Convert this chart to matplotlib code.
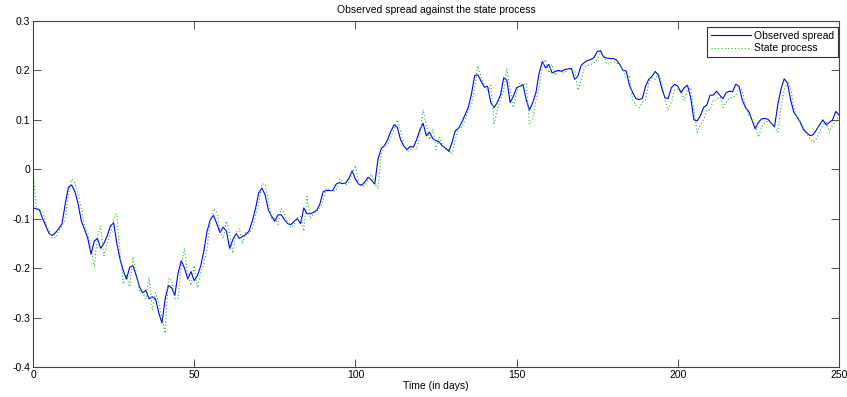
import numpy as np
import matplotlib
matplotlib.use("Agg")
import matplotlib.pyplot as plt

plt.rcParams['font.family'] = ['Liberation Sans', 'DejaVu Sans']

# daily values, day 0 .. 250
observed = [
    -0.078, -0.080, -0.082, -0.100, -0.115, -0.130, -0.134, -0.128, -0.120, -0.110,
    -0.070, -0.036, -0.032, -0.045, -0.070, -0.105, -0.122, -0.140, -0.172, -0.145,
    -0.140, -0.160, -0.150, -0.135, -0.115, -0.108, -0.150, -0.182, -0.205, -0.222,
    -0.198, -0.195, -0.215, -0.237, -0.250, -0.245, -0.262, -0.258, -0.262, -0.290,
    -0.311, -0.262, -0.235, -0.240, -0.255, -0.210, -0.185, -0.200, -0.222, -0.207,
    -0.225, -0.215, -0.196, -0.165, -0.125, -0.102, -0.093, -0.110, -0.128, -0.117,
    -0.125, -0.160, -0.142, -0.130, -0.140, -0.136, -0.132, -0.125, -0.105, -0.080,
    -0.048, -0.038, -0.052, -0.082, -0.095, -0.105, -0.092, -0.092, -0.102, -0.110,
    -0.112, -0.105, -0.100, -0.110, -0.078, -0.090, -0.090, -0.087, -0.083, -0.070,
    -0.045, -0.043, -0.043, -0.043, -0.030, -0.027, -0.029, -0.028, -0.018, -0.003,
    -0.020, -0.030, -0.032, -0.025, -0.016, -0.022, -0.030, 0.020, 0.042, 0.048,
    0.060, 0.077, 0.090, 0.085, 0.060, 0.047, 0.040, 0.046, 0.045, 0.060,
    0.080, 0.093, 0.068, 0.075, 0.062, 0.058, 0.055, 0.047, 0.043, 0.036,
    0.055, 0.078, 0.083, 0.095, 0.110, 0.125, 0.152, 0.190, 0.191, 0.178,
    0.166, 0.168, 0.135, 0.125, 0.135, 0.150, 0.185, 0.180, 0.135, 0.148,
    0.165, 0.168, 0.171, 0.140, 0.120, 0.135, 0.155, 0.195, 0.218, 0.205,
    0.212, 0.195, 0.198, 0.200, 0.198, 0.202, 0.203, 0.204, 0.182, 0.188,
    0.210, 0.216, 0.220, 0.222, 0.226, 0.238, 0.240, 0.227, 0.225, 0.224,
    0.224, 0.221, 0.212, 0.200, 0.199, 0.170, 0.155, 0.143, 0.141, 0.143,
    0.168, 0.182, 0.188, 0.198, 0.190, 0.165, 0.145, 0.143, 0.165, 0.172,
    0.168, 0.155, 0.165, 0.170, 0.145, 0.100, 0.098, 0.108, 0.125, 0.130,
    0.150, 0.150, 0.158, 0.150, 0.143, 0.155, 0.158, 0.157, 0.172, 0.168,
    0.140, 0.125, 0.117, 0.100, 0.082, 0.095, 0.102, 0.103, 0.101, 0.093,
    0.086, 0.130, 0.162, 0.183, 0.175, 0.140, 0.115, 0.106, 0.095, 0.080,
    0.074, 0.068, 0.070, 0.080, 0.090, 0.100, 0.090, 0.095, 0.100, 0.117,
    0.110,
]

state = [
    0.000, -0.078, -0.082, -0.085, -0.110, -0.125, -0.140, -0.138, -0.125, -0.115,
    -0.100, -0.050, -0.020, -0.028, -0.050, -0.080, -0.115, -0.130, -0.160, -0.198,
    -0.135, -0.114, -0.175, -0.150, -0.130, -0.100, -0.090, -0.170, -0.232, -0.215,
    -0.238, -0.177, -0.210, -0.245, -0.250, -0.262, -0.218, -0.285, -0.250, -0.270,
    -0.300, -0.332, -0.220, -0.225, -0.262, -0.262, -0.195, -0.160, -0.215, -0.235,
    -0.195, -0.240, -0.210, -0.190, -0.160, -0.105, -0.080, -0.085, -0.125, -0.140,
    -0.105, -0.130, -0.170, -0.128, -0.120, -0.150, -0.128, -0.130, -0.120, -0.095,
    -0.068, -0.030, -0.030, -0.060, -0.100, -0.100, -0.112, -0.080, -0.090, -0.108,
    -0.118, -0.112, -0.098, -0.095, -0.125, -0.055, -0.100, -0.090, -0.085, -0.078,
    -0.062, -0.038, -0.042, -0.045, -0.043, -0.020, -0.025, -0.032, -0.026, -0.008,
    0.008, -0.030, -0.035, -0.033, -0.020, -0.010, -0.028, -0.040, 0.030, 0.048,
    0.050, 0.065, 0.082, 0.100, 0.078, 0.050, 0.035, 0.040, 0.045, 0.040,
    0.070, 0.120, 0.090, 0.060, 0.082, 0.040, 0.065, 0.050, 0.040, 0.040,
    0.030, 0.060, 0.085, 0.085, 0.100, 0.118, 0.130, 0.165, 0.209, 0.185,
    0.170, 0.160, 0.170, 0.091, 0.120, 0.140, 0.160, 0.203, 0.160, 0.125,
    0.155, 0.175, 0.170, 0.175, 0.091, 0.100, 0.140, 0.165, 0.210, 0.222,
    0.195, 0.212, 0.190, 0.200, 0.195, 0.195, 0.205, 0.200, 0.200, 0.160,
    0.180, 0.205, 0.210, 0.212, 0.215, 0.222, 0.235, 0.232, 0.212, 0.215,
    0.218, 0.215, 0.212, 0.200, 0.185, 0.190, 0.140, 0.130, 0.125, 0.135,
    0.140, 0.175, 0.185, 0.182, 0.195, 0.175, 0.140, 0.120, 0.135, 0.160,
    0.162, 0.160, 0.140, 0.160, 0.165, 0.120, 0.075, 0.090, 0.100, 0.120,
    0.120, 0.140, 0.140, 0.150, 0.125, 0.135, 0.145, 0.145, 0.150, 0.165,
    0.160, 0.125, 0.110, 0.100, 0.090, 0.065, 0.085, 0.095, 0.097, 0.095,
    0.085, 0.075, 0.125, 0.160, 0.178, 0.165, 0.125, 0.105, 0.097, 0.085,
    0.070, 0.062, 0.055, 0.062, 0.075, 0.090, 0.095, 0.075, 0.090, 0.095,
    0.110,
]

days = np.arange(len(observed))

x_ticks = [0, 50, 100, 150, 200, 250]
y_ticks = [-0.4, -0.3, -0.2, -0.1, 0, 0.1, 0.2, 0.3]
y_labels = ['-0.4', '-0.3', '-0.2', '-0.1', '0', '0.1', '0.2', '0.3']

fig = plt.figure(figsize=(8.47, 3.97), dpi=100)
ax = fig.add_axes([33 / 847, 1 - 367 / 397, (839 - 33) / 847, (367 - 21) / 397])

ax.plot(days, observed, color='#0000ff', lw=0.8, label='Observed spread')
ax.plot(days, state, color='#22bb22', lw=0.8, ls=(0, (1, 2)), label='State process')

ax.set_xlim(0, 250)
ax.set_ylim(-0.4, 0.3)
ax.set_xticks(x_ticks)
ax.set_yticks(y_ticks)
ax.set_yticklabels(y_labels)
ax.tick_params(direction='in', length=6, width=0.6, labelsize=7.5,
               top=True, right=True, pad=2, colors='#333333', labelcolor='black')
for sp in ax.spines.values():
    sp.set_linewidth(0.8)
    sp.set_color('#444444')

ax.set_xlabel('Time (in days)', fontsize=7.5, labelpad=1)
ax.set_title('Observed spread against the state process', fontsize=7.5, pad=6)

leg = ax.legend(loc='upper right', bbox_to_anchor=(1 - 1.5 / 806, 1 - 6 / 346),
                fontsize=7.5, frameon=True, fancybox=False, borderaxespad=0,
                handlelength=3.8, borderpad=0.35, labelspacing=0.25,
                handletextpad=0.3)
leg.get_frame().set_edgecolor('black')
leg.get_frame().set_linewidth(0.8)

fig.savefig('out.png', dpi=100)
